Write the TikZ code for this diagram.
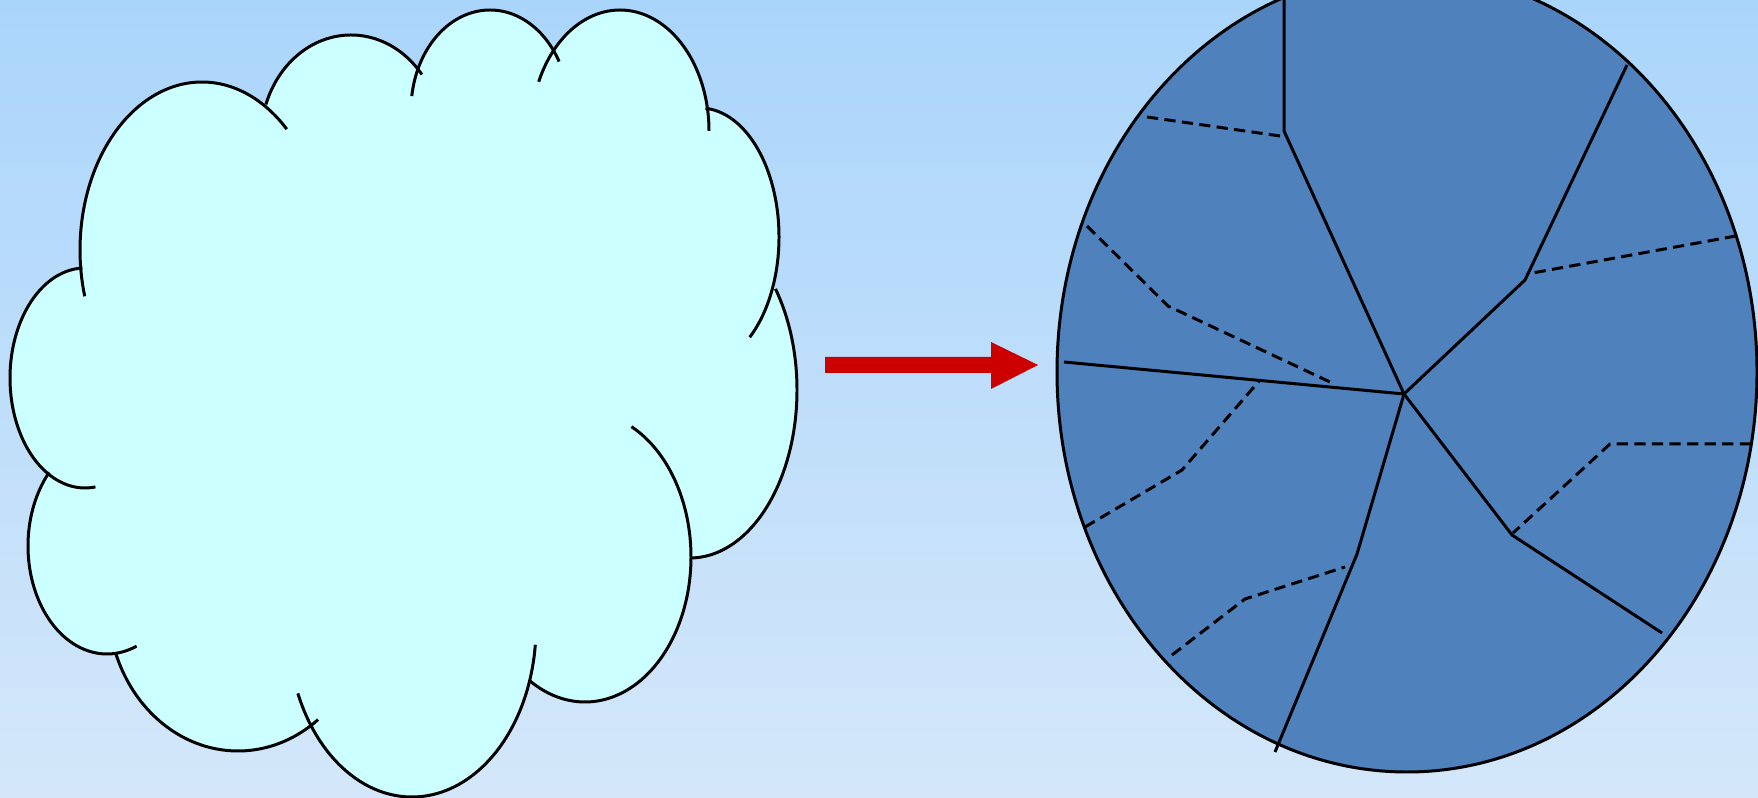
\documentclass[tikz,border=0pt]{standalone}
\usepackage{tikz}
\definecolor{bgtop}{RGB}{170,213,251}
\definecolor{bgbottom}{RGB}{212,231,250}
\definecolor{cloudcyan}{RGB}{204,255,255}
\definecolor{pieblue}{RGB}{79,129,189}
\definecolor{arrowred}{RGB}{204,0,0}

\begin{document}
\begin{tikzpicture}[x=0.01cm, y=-0.01cm, line join=round,
		cloudline/.style={black, line width=0.85pt},
		cut/.style={black, line width=0.85pt},
		cutdash/.style={black, line width=0.85pt, dash pattern=on 3.2pt off 1.8pt}]
				% background
				\shade[top color=bgtop, bottom color=bgbottom] (0,0) rectangle (1758,798);
				\useasboundingbox (0,0) rectangle (1758,798);
				
				% cloud: lobes cx/cy/rx/ry/start/end
				\def\lobes{202/250/122/168/164/314, 351/138/90/103/199/322, 490/110/79/100/188/331,
					620/131/89/121/204/360, 700/237/79/129/274/411, 690/390/107/168/-37/90,
					585/557/106/145/-64/121, 412/627/124/170/6/157, 238/603/130/148/52/160,
					107/546/79/108/68/223, 85/378/75/110/82/268}
				\foreach \cx/\cy/\rx/\ry/\ta/\tb in \lobes
					\fill[cloudcyan] (\cx,\cy) ellipse[x radius=\rx, y radius=\ry];
				\fill[cloudcyan] (200,150) -- (350,100) -- (500,80) -- (620,80) -- (700,150) -- (740,300)
					-- (720,500) -- (600,650) -- (420,720) -- (240,700) -- (110,600) -- (60,420) -- (100,260) -- cycle;
				\foreach \cx/\cy/\rx/\ry/\ta/\tb in \lobes
					\draw[cloudline] plot[domain=\ta:\tb, samples=60, smooth] ({\cx+\rx*cos(\x)}, {\cy+\ry*sin(\x)});
				
				% red arrow
				\fill[arrowred] (825,357) -- (991,357) -- (991,342) -- (1038,365) -- (991,389) -- (991,373) -- (825,373) -- cycle;
				
				% ellipse
				\draw[cut, fill=pieblue] (1407,372) ellipse[x radius=350, y radius=400];
				
				% solid cuts
				\coordinate (C) at (1404,394);
				\coordinate (K1) at (1284,131);
				\coordinate (K2) at (1525,280);
				\coordinate (K3) at (1357,554);
				\coordinate (K4) at (1512,535);
				\draw[cut] (1284,0) -- (K1) -- (C);
				\draw[cut] (1627,65) -- (K2) -- (C);
				\draw[cut] (1064,362) -- (C);
				\draw[cut] (C) -- (K3) -- (1275,752);
				\draw[cut] (C) -- (K4) -- (1662,633);
				
				% dashed cuts
				\draw[cutdash] (1147,117) -- (1280,136);
				\draw[cutdash] (1087,226) -- (1168,306) -- (1330,382);
				\draw[cutdash] (1085,527) -- (1182,470) -- (1260,380);
				\draw[cutdash] (1172,655) -- (1245,599) -- (1345,567);
				\draw[cutdash] (1736,236) -- (1527,274);
				\draw[cutdash] (1751,444) -- (1610,444) -- (1513,533);
			\end{tikzpicture}
\end{document}
